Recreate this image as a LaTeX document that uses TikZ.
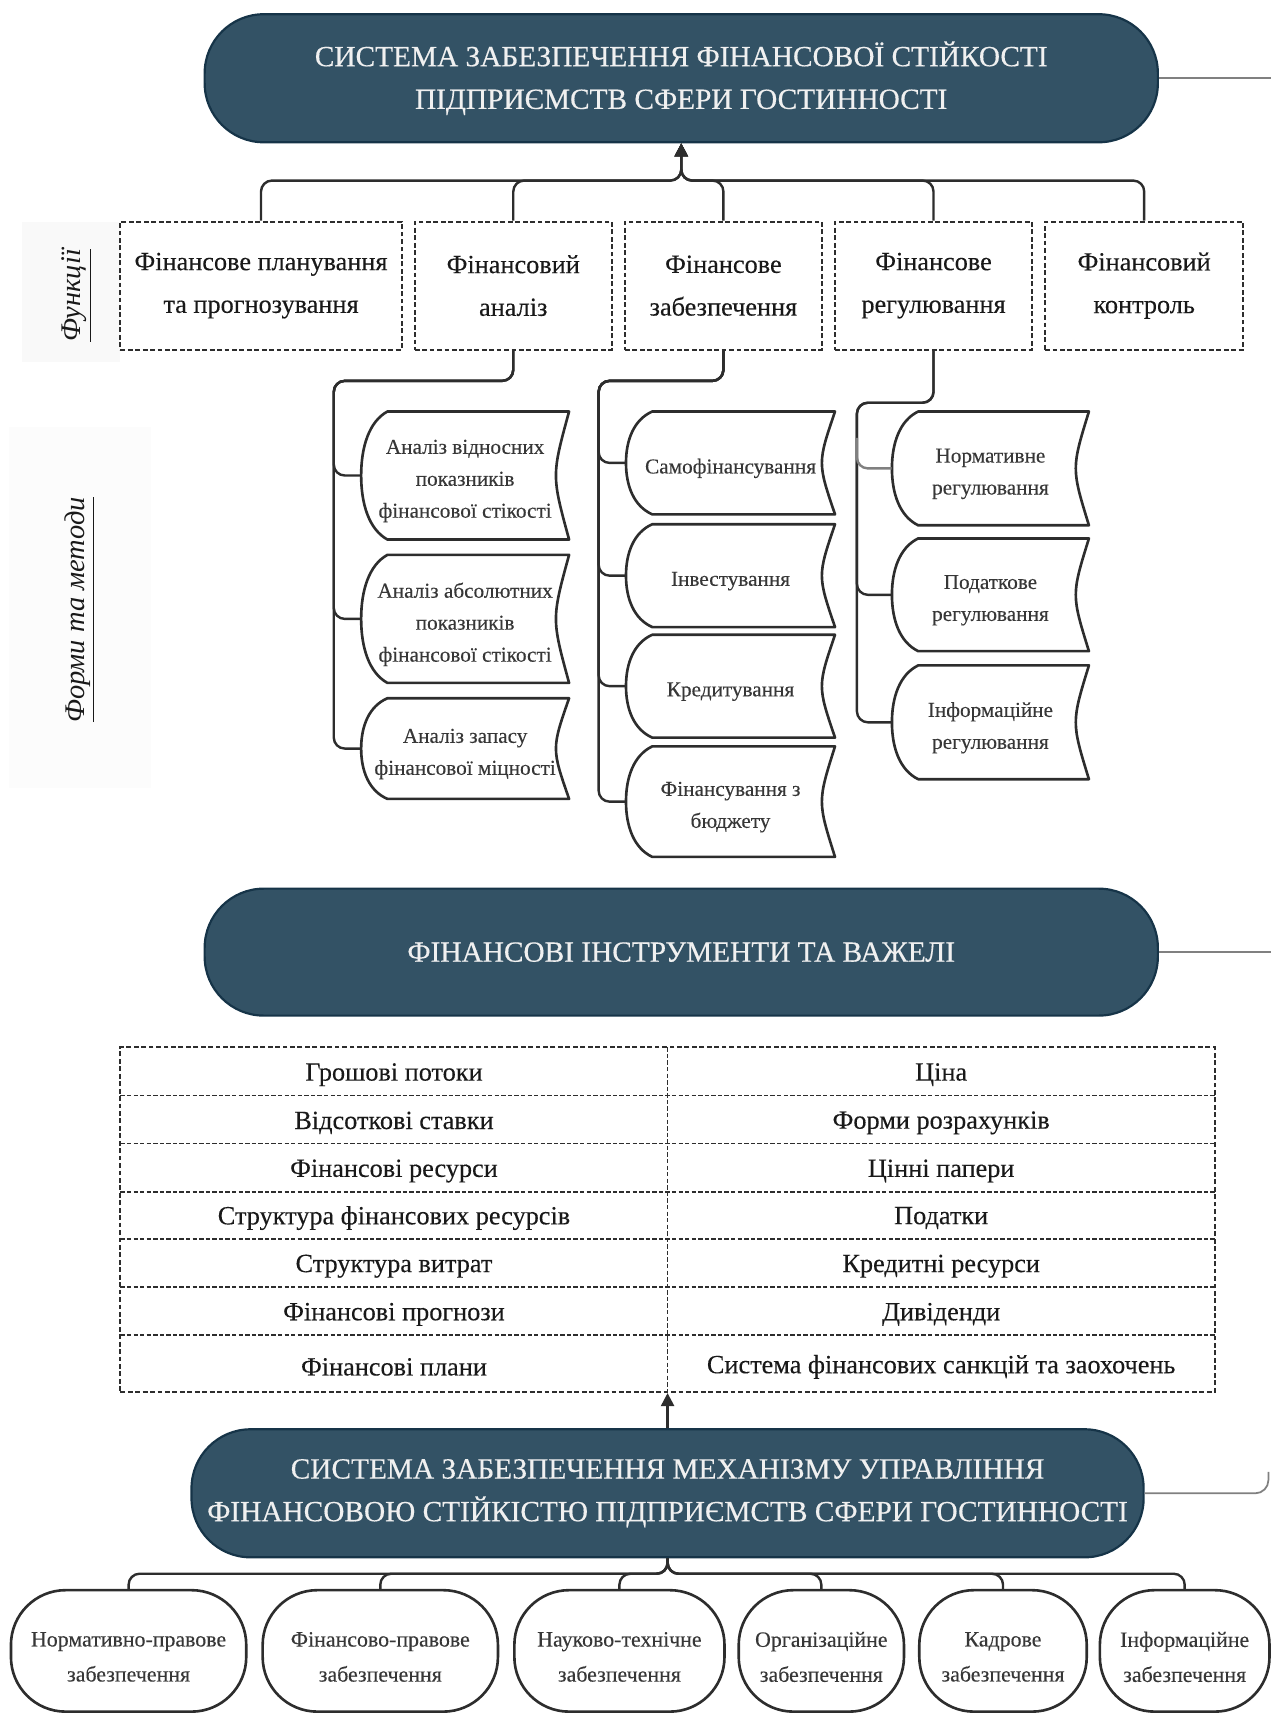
\documentclass[tikz,border=0pt]{standalone}
\usepackage{fontspec}
\setmainfont{Liberation Serif}
\newfontfamily\pillfont[FakeBold=0.4]{Liberation Serif}
\newfontfamily\boxfont[FakeBold=0.25]{Liberation Serif}
\usetikzlibrary{arrows.meta}
\definecolor{pillfill}{RGB}{51,82,101}
\definecolor{pilledge}{RGB}{22,52,72}
\definecolor{lin}{RGB}{45,45,45}
\definecolor{txt}{RGB}{25,25,25}
\definecolor{sdtxt}{RGB}{55,55,55}
\newcommand\sdnode[6]{%
  \pgfmathsetmacro\sdM{(#3+#5)/2}\pgfmathsetmacro\sdH{#5-#3}%
  \draw[sdline] (#2+24,#3) -- (#4,#3) .. controls (#4-16,\sdM) .. (#4,#5) -- (#2+24,#5)
    .. controls (#2+7,#5-0.08*\sdH) and (#2,#5-0.28*\sdH) .. (#2,\sdM)
    .. controls (#2,#3+0.28*\sdH) and (#2+7,#3+0.08*\sdH) .. cycle;
  \node[inner sep=0pt, minimum width={(#4-#2)*0.5pt}, minimum height={\sdH*0.5pt}] (#1) at ({(#2+#4)/2},\sdM) {};
  \node[sdtext] (#1t) at ({(#2+#4)/2},\sdM+5) {#6};
}
\begin{document}
\begin{tikzpicture}[x=0.5pt,y=-0.5pt,
  pill/.style={draw=pilledge, line width=1pt, fill=pillfill, rounded corners=27pt, text=white!94!black, align=center, font=\pillfont\fontsize{13.4}{19.5}\selectfont, inner sep=0pt},
  funcbox/.style={draw=lin, line width=0.9pt, dash pattern=on 2.2pt off 1.2pt, minimum height=58.5pt, align=center, font=\boxfont\fontsize{12}{19.5}\selectfont, text=txt, inner sep=1pt},
  conn/.style={draw=lin, line width=1.1pt, rounded corners=5pt},
  sdline/.style={draw=lin, line width=1.2pt, line join=round},
  sdtext/.style={align=center, text=sdtxt, font=\boxfont\fontsize{9.7}{14.6}\selectfont, inner sep=0pt},
  cell/.style={font=\boxfont\fontsize{12}{14}\selectfont, text=txt},
  tline/.style={draw=lin, line width=0.7pt, dash pattern=on 2pt off 1pt},
  oval/.style={draw=lin, line width=1.2pt, rounded corners=25pt, minimum height=55.5pt, inner sep=0pt},
  ovaltext/.style={align=center, font=\boxfont\fontsize{10}{16}\selectfont, text=sdtxt, inner sep=0pt},
  sideline/.style={draw=gray, line width=0.8pt},
  vlabel/.style={rotate=90, font=\itshape\fontsize{13}{15}\selectfont, text=txt},
  tip/.style={-{Triangle[width=6pt,length=6pt]}}
]
\useasboundingbox (0,0) rectangle (1161,1568);
% faint label backgrounds
\fill[black!2.5] (20,203) rectangle (110,331);
\fill[black!1] (8,390) rectangle (138,720);
\node[vlabel] (lblf) at (70,270) {\underline{Функції}};
\node[vlabel] (lblm) at (73,557) {\underline{Форми та методи}};

% top pill
\node[pill, minimum width=435.5pt, minimum height=58.5pt] (p1) at (622.5,71.5)
  {СИСТЕМА ЗАБЕЗПЕЧЕННЯ ФІНАНСОВОЇ СТІЙКОСТІ\\ПІДПРИЄМСТВ СФЕРИ ГОСТИННОСТІ};

% function boxes
\node[funcbox, minimum width=128.5pt] (f1) at (238.5,261) {Фінансове планування\\та прогнозування};
\node[funcbox, minimum width=90pt] (f2) at (469,261) {Фінансовий\\аналіз};
\node[funcbox, minimum width=90pt] (f3) at (661,261) {Фінансове\\забезпечення};
\node[funcbox, minimum width=90pt] (f4) at (853,261) {Фінансове\\регулювання};
\node[funcbox, minimum width=90.5pt] (f5) at (1045.5,261) {Фінансовий\\контроль};

\coordinate (bus1) at (622.5,165);
\foreach \f in {f1,f2,f3,f4,f5}{
  \draw[conn, tip] (\f.north) |- (bus1) -- (p1.south);
}

% forms and methods shapes
\sdnode{a1}{330}{376}{520}{493}{Аналіз відносних\\показників\\фінансової стікості}
\sdnode{a2}{330}{507}{520}{624}{Аналіз абсолютних\\показників\\фінансової стікості}
\sdnode{a3}{330}{638}{520}{730}{Аналіз запасу\\фінансової міцності}

\sdnode{b1}{572}{376}{763}{470}{Самофінансування}
\sdnode{b2}{572}{479}{763}{573}{Інвестування}
\sdnode{b3}{572}{580}{763}{674}{Кредитування}
\sdnode{b4}{572}{682}{763}{783}{Фінансування з\\бюджету}

\sdnode{c1}{815}{376}{995}{480}{Нормативне\\регулювання}
\sdnode{c2}{815}{492}{995}{595}{Податкове\\регулювання}
\sdnode{c3}{815}{608}{995}{712}{Інформаційне\\регулювання}

\coordinate (k1) at (305,348);
\coordinate (k2) at (547,348);
\coordinate (k3) at (783,368);
\foreach \s in {a1,a2,a3}{ \draw[conn] (f2.south) |- (k1) |- (\s.west); }
\foreach \s in {b1,b2,b3,b4}{ \draw[conn] (f3.south) |- (k2) |- (\s.west); }
\foreach \s in {c2,c3}{ \draw[conn] (f4.south) |- (k3) |- (\s.west); }
\coordinate (k3b) at (783,400);
\draw[conn, draw=gray] (k3b) |- (c1.west);

% second pill
\node[pill, minimum width=435.5pt, minimum height=58pt] (p2) at (622.5,870)
  {ФІНАНСОВІ ІНСТРУМЕНТИ ТА ВАЖЕЛІ};

% table
\node[draw=lin, line width=0.9pt, dash pattern=on 2.2pt off 1.2pt, minimum width=500pt, minimum height=157.5pt, inner sep=0pt] (tbl) at (610,1114.5) {};
\foreach \yy in {1001,1045,1089,1132,1176,1220} \draw[tline] (110,\yy) -- (1110,\yy);
\draw[tline] (610,957) -- (610,1272);
\node[cell] (l1) at (360,982) {Грошові потоки};
\node[cell] (l2) at (360,1026) {Відсоткові ставки};
\node[cell] (l3) at (360,1070) {Фінансові ресурси};
\node[cell] (l4) at (360,1113) {Структура фінансових ресурсів};
\node[cell] (l5) at (360,1157) {Структура витрат};
\node[cell] (l6) at (360,1201) {Фінансові прогнози};
\node[cell] (l7) at (360,1249) {Фінансові плани};
\node[cell] (r1) at (860,982) {Ціна};
\node[cell] (r2) at (860,1026) {Форми розрахунків};
\node[cell] (r3) at (860,1070) {Цінні папери};
\node[cell] (r4) at (860,1113) {Податки};
\node[cell] (r5) at (860,1157) {Кредитні ресурси};
\node[cell] (r6) at (860,1201) {Дивіденди};
\node[cell] (r7) at (860,1249) {Система фінансових санкцій та заохочень};

% third pill
\node[pill, minimum width=435pt, minimum height=58.5pt] (p3) at (610,1364.5)
  {СИСТЕМА ЗАБЕЗПЕЧЕННЯ МЕХАНІЗМУ УПРАВЛІННЯ\\ФІНАНСОВОЮ СТІЙКІСТЮ ПІДПРИЄМСТВ СФЕРИ ГОСТИННОСТІ};
\draw[conn, tip] (p3.north) -- (tbl.south);

% bottom ovals
\node[oval, minimum width=107.5pt] (o1) at (117.5,1508.5) {};
\node[oval, minimum width=107.5pt] (o2) at (347.5,1508.5) {};
\node[oval, minimum width=96pt] (o3) at (566,1508.5) {};
\node[oval, minimum width=75.5pt] (o4) at (750.5,1508.5) {};
\node[oval, minimum width=76.5pt] (o5) at (916.5,1508.5) {};
\node[oval, minimum width=77.5pt] (o6) at (1082.5,1508.5) {};
\node[ovaltext] (o1t) at (117.5,1514) {Нормативно-правове\\забезпечення};
\node[ovaltext] (o2t) at (347.5,1514) {Фінансово-правове\\забезпечення};
\node[ovaltext] (o3t) at (566,1514) {Науково-технічне\\забезпечення};
\node[ovaltext] (o4t) at (750.5,1514) {Організаційне\\забезпечення};
\node[ovaltext] (o5t) at (916.5,1514) {Кадрове\\забезпечення};
\node[ovaltext] (o6t) at (1082.5,1514) {Інформаційне\\забезпечення};
\coordinate (bus3) at (610,1438);
\foreach \o in {o1,o2,o3,o4,o5,o6}{ \draw[conn] (p3.south) -- (bus3) -| (\o.north); }

% right side lines
\coordinate (e1) at (1161,71.5);
\coordinate (e2) at (1161,870);
\coordinate (e3) at (1159,1345);
\draw[sideline] (p1.east) -- (e1);
\draw[sideline] (p2.east) -- (e2);
\draw[sideline, rounded corners=6pt] (p3.east) -| (e3);
\end{tikzpicture}
\end{document}
